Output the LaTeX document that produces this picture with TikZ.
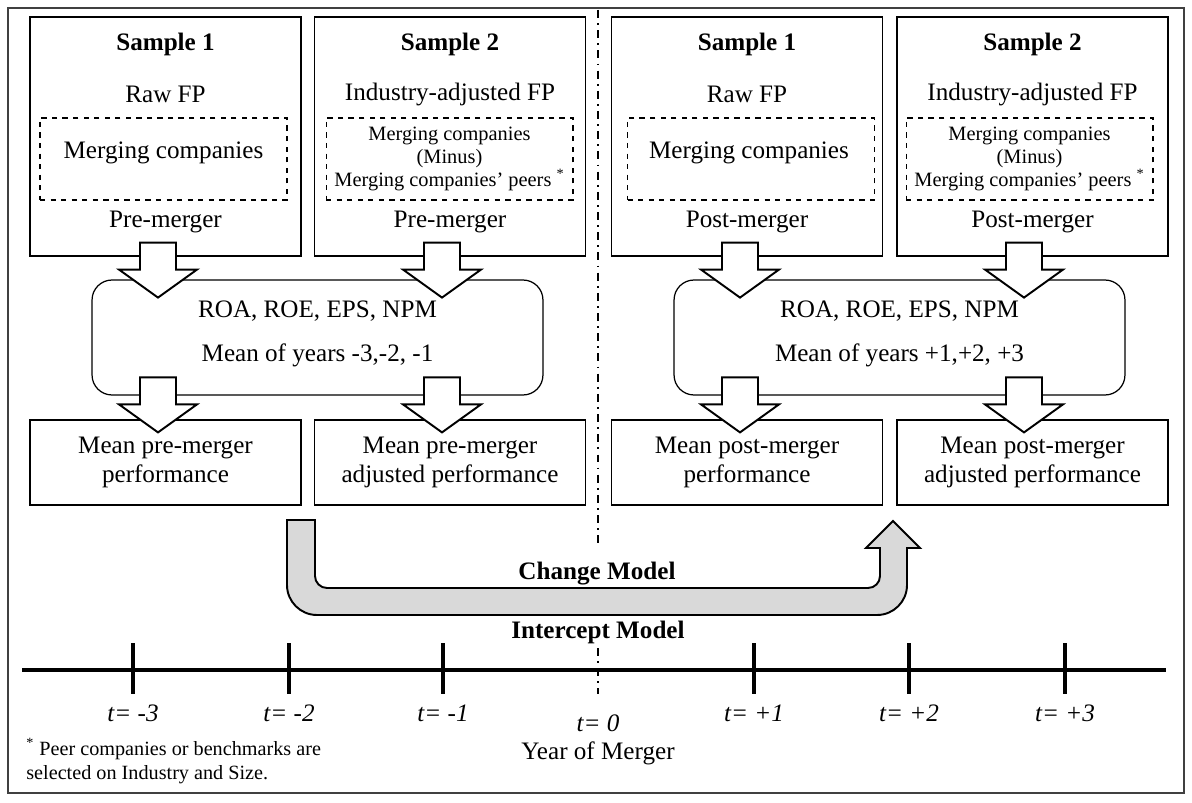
\documentclass[tikz,border=0pt]{standalone}
\usepackage{fontspec}
\setmainfont{Liberation Serif}
\usetikzlibrary{calc}
\tikzset{
  frame/.style={draw=black!75,line width=1.3pt},
  panel/.style={draw,line width=0.7pt,minimum width=5.42cm,minimum height=4.78cm,inner sep=0pt},
  meanbox/.style={draw,line width=0.7pt,minimum width=5.42cm,minimum height=1.7cm,align=center,
    font=\fontsize{14.3}{16}\selectfont},
  calcbox/.style={draw,line width=0.7pt,rounded corners=0.4cm,minimum width=9.02cm,minimum height=2.3cm},
  setbox/.style={draw,dashed,line width=0.6pt,minimum width=4.94cm,minimum height=1.64cm,align=center},
  txt/.style={font=\fontsize{14.3}{17}\selectfont,inner sep=0pt},
  smalltxt/.style={font=\fontsize{11.6}{13}\selectfont},
  bigarrow/.style={draw,fill=white,line width=1.1pt,line join=miter},
  uarrow/.style={draw,fill=black!15,line width=1.1pt,line join=miter},
  divider/.style={line width=0.9pt,dash pattern=on 4.5pt off 3pt on 1pt off 3pt},
  axis/.style={line width=2.2pt},
  yearlbl/.style={font=\fontsize{14.3}{17}\selectfont\itshape},
}
\newcommand\blockdown[1]{%
  \draw[bigarrow,shift={(#1)}] (0,0) -- (39,-28) -- (18,-28) -- (18,-55)
    -- (-18,-55) -- (-18,-28) -- (-39,-28) -- cycle;}
\begin{document}
\begin{tikzpicture}[x=0.02cm,y=-0.02cm]
  \useasboundingbox (0,0) rectangle (1192,803);
  \draw[frame] (8,8) rectangle (1184,793);
  \draw[divider] (598,10) -- (598,545);
  \draw[divider] (598,648) -- (598,694);

  % sample panels
  \node[panel] (s1pre) at (165.5,136.5) {};
  \node[panel] (s2pre) at (450,136.5) {};
  \node[panel] (s1post) at (747,136.5) {};
  \node[panel] (s2post) at (1032.5,136.5) {};

  \node[txt,font=\fontsize{14.3}{17}\selectfont\bfseries] (h1) at (165.5,44) {Sample 1};
  \node[txt,font=\fontsize{14.3}{17}\selectfont\bfseries] (h2) at (450,44) {Sample 2};
  \node[txt,font=\fontsize{14.3}{17}\selectfont\bfseries] (h3) at (747,44) {Sample 1};
  \node[txt,font=\fontsize{14.3}{17}\selectfont\bfseries] (h4) at (1032.5,44) {Sample 2};

  \node[txt] (fp1) at (165.5,94) {Raw FP};
  \node[txt] (fp2) at (450,94) {Industry-adjusted FP};
  \node[txt] (fp3) at (747,94) {Raw FP};
  \node[txt] (fp4) at (1032.5,94) {Industry-adjusted FP};

  \node[setbox] (set1) at (163.5,159) {};
  \node[setbox,smalltxt] (set2) at (449.5,159) {Merging companies\\(Minus)\\Merging companies’ peers \textsuperscript{*}};
  \node[setbox] (set3) at (751,159) {};
  \node[setbox,smalltxt] (set4) at (1029.5,159) {Merging companies\\(Minus)\\Merging companies’ peers \textsuperscript{*}};
  \node[txt] (mc1) at (163.5,153) {Merging companies};
  \node[txt] (mc3) at (749,153) {Merging companies};

  \node[txt] (per1) at (165.5,222) {Pre-merger};
  \node[txt] (per2) at (450,222) {Pre-merger};
  \node[txt] (per3) at (747,222) {Post-merger};
  \node[txt] (per4) at (1032.5,222) {Post-merger};

  % ratio boxes
  \node[calcbox] (calcL) at (317.5,337.5) {};
  \node[calcbox] (calcR) at (899.5,337.5) {};
  \node[txt] (ratL) at (317.5,311) {ROA, ROE, EPS, NPM};
  \node[txt] (ratR) at (899.5,311) {ROA, ROE, EPS, NPM};
  \node[txt] (yrsL) at (317.5,355) {Mean of years -3,-2, -1};
  \node[txt] (yrsR) at (899.5,355) {Mean of years +1,+2, +3};

  % mean boxes
  \node[meanbox] (m1) at (165.5,462.5) {Mean pre-merger\\performance};
  \node[meanbox] (m2) at (450,462.5) {Mean pre-merger\\adjusted performance};
  \node[meanbox] (m3) at (747,462.5) {Mean post-merger\\performance};
  \node[meanbox] (m4) at (1032.5,462.5) {Mean post-merger\\adjusted performance};

  % block arrows
  \coordinate (a1) at ($(s1pre.south)+(-7.5,41)$);
  \coordinate (a2) at ($(s2pre.south)+(-8,41)$);
  \coordinate (a3) at ($(s1post.south)+(-7,41)$);
  \coordinate (a4) at ($(s2post.south)+(-8.5,41)$);
  \coordinate (b1) at ($(m1.north)+(-7.5,13)$);
  \coordinate (b2) at ($(m2.north)+(-8,13)$);
  \coordinate (b3) at ($(m3.north)+(-7,13)$);
  \coordinate (b4) at ($(m4.north)+(-8.5,13)$);
  \foreach \p in {a1,a2,a3,a4,b1,b2,b3,b4}
    \blockdown{\p};

  % change model arrow
  \draw[uarrow] (287,520) -- (287,585) arc[start angle=180,end angle=90,radius=30]
    -- (877,615) arc[start angle=90,end angle=0,radius=30] -- (907,548)
    -- (920,548) -- (893,521) -- (866,548) -- (880,548) -- (880,576)
    arc[start angle=0,end angle=90,radius=12] -- (327,588)
    arc[start angle=90,end angle=180,radius=12] -- (315,520) -- cycle;
  \node[txt,font=\fontsize{14.3}{17}\selectfont\bfseries] (chg) at (597,574) {Change Model};
  \node[txt,font=\fontsize{14.3}{17}\selectfont\bfseries] (icp) at (598,632) {Intercept Model};

  % time line
  \draw[axis] (22,670) -- (1166,670);
  \foreach \x/\t [count=\i] in {133/-3,289/-2,443/-1,754/+1,909/+2,1065/+3}{
    \draw[axis] (\x,643) -- (\x,694);
    \node[yearlbl] (t\i) at (\x,713) {t= \t};
  }
  \node[yearlbl] (t0) at (598,723) {t= 0};
  \node[txt] (yom) at (598,753) {Year of Merger};

  \node[anchor=north west,align=left,inner sep=0pt,font=\fontsize{11.5}{13.6}\selectfont] (note) at (26,738)
    {\textsuperscript{*} Peer companies or benchmarks are\\selected on Industry and Size.};
\end{tikzpicture}
\end{document}
